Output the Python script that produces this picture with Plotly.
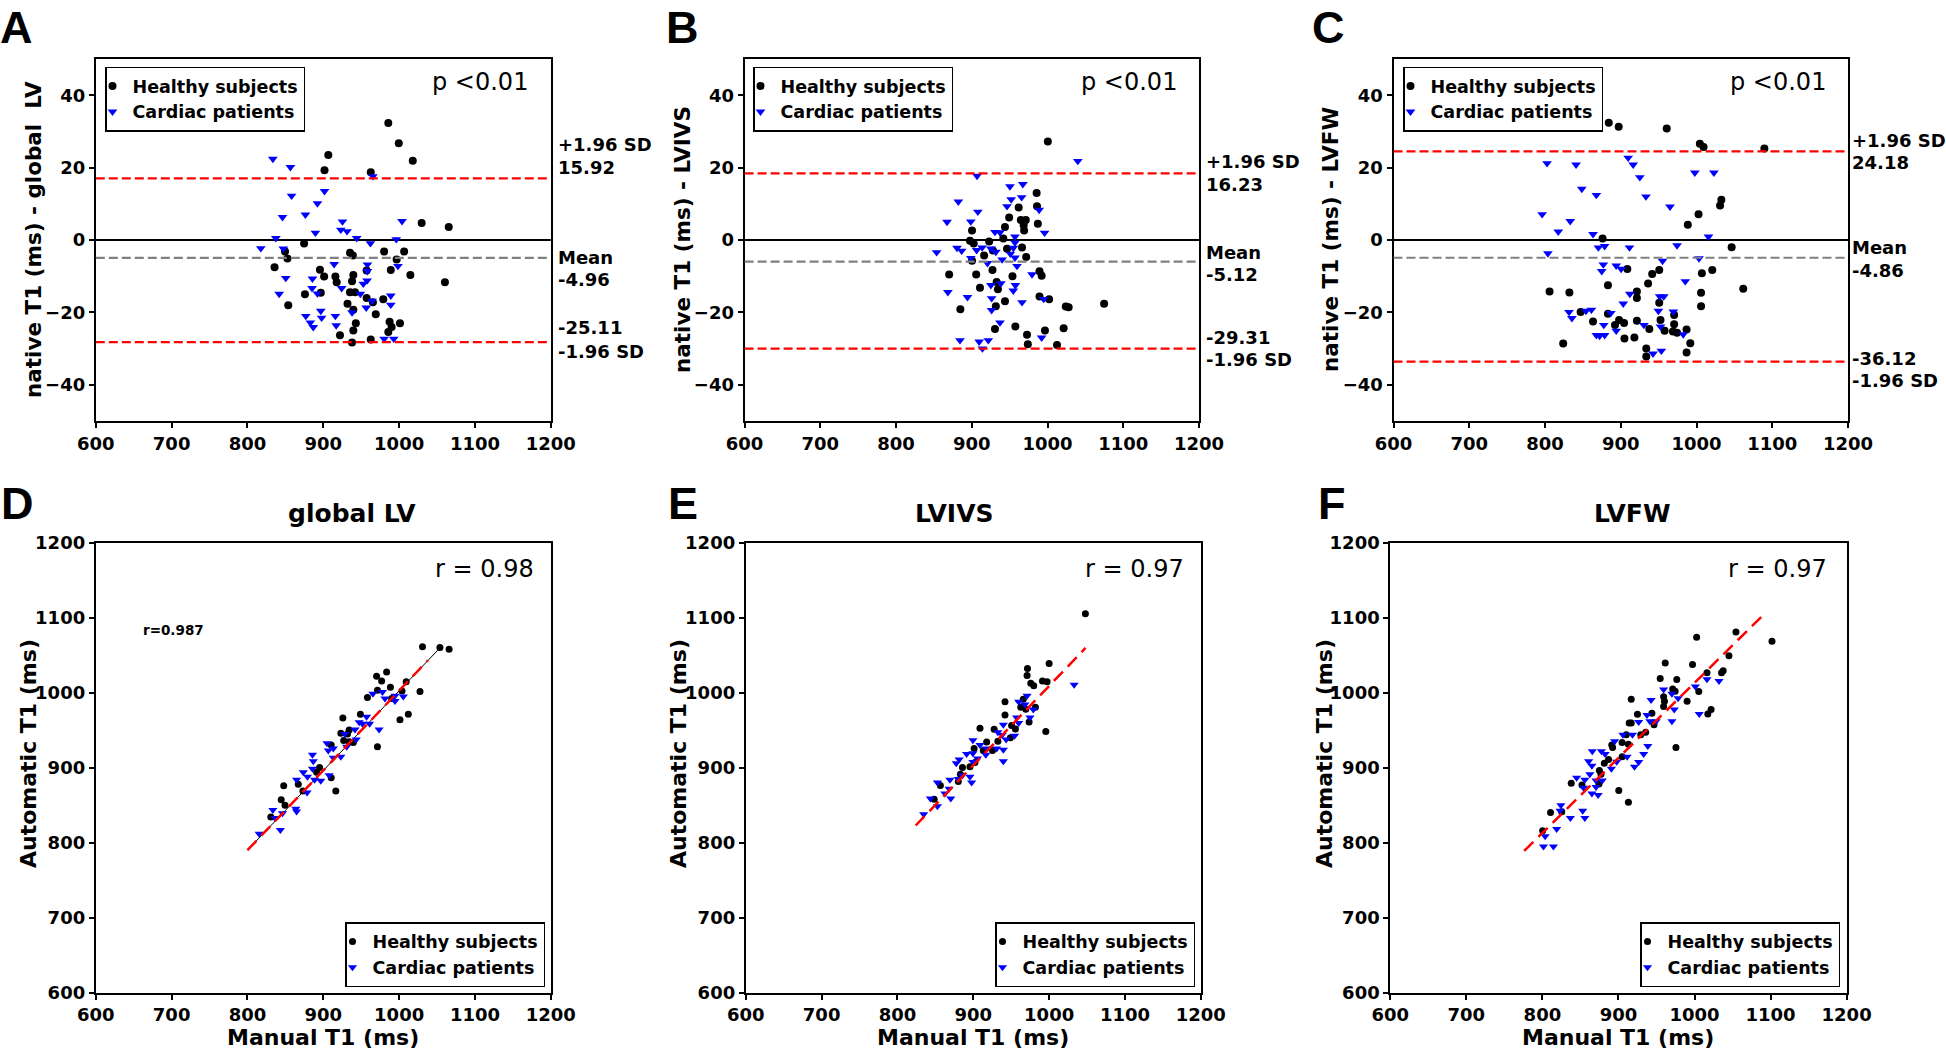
import plotly.graph_objects as go

W, H = 1946, 1053

# ---------------- DATA ----------------
# Panel A: Bland-Altman, global LV  (x = mean T1, y = difference)
A_healthy_x = [985.7, 999.5, 1018, 906.6, 901.6, 962.6, 1029.7, 1065.4, 874.7, 849.5, 852.7, 835.7, 853.8,
               895.6, 901.1, 875.8, 896.7, 915.9, 917.6, 935.2, 939, 939.6, 937.9, 935.2, 941.8, 931.9, 939.6,
               957.1, 965.4, 957.1, 980.2, 1006.6, 996.7, 989, 1014.8, 1060.4, 979.1, 969.2, 942.9, 939.6, 922,
               937.9, 962.6, 987.4, 990.1, 985.7, 1001.1]
A_healthy_y = [32.3, 26.7, 21.9, 23.5, 19.3, 18.7, 4.7, 3.6, -1.0, -3.2, -5.1, -7.5, -18.0,
               -8.2, -10.1, -15.0, -14.6, -10.1, -11.7, -3.5, -4.3, -9.7, -11.4, -14.4, -14.4, -17.6, -19.3,
               -16.0, -17.2, -8.4, -3.2, -3.2, -5.4, -8.3, -9.7, -11.7, -16.4, -20.5, -23.0, -25.0, -26.3,
               -28.3, -27.5, -22.6, -24.0, -25.4, -23.0]
A_patient_x = [833.5, 856.6, 858.2, 901.6, 892.3, 876.4, 846.2, 889.6, 837.4, 817.6, 847.3, 925.3, 923.1,
               931.3, 944, 962.1, 996.2, 1003.8, 965.4, 914.3, 850.5, 841.8, 885.7, 885.2, 892.3, 924.2, 948.9,
               958.2, 958.2, 957.7, 952.7, 998.4, 964.3, 956.6, 989, 989, 937.9, 896.7, 897.8, 876.9, 882.9,
               886.8, 915.9, 917, 980.2, 992.9]
A_patient_y = [22.4, 20.1, 12.2, 13.5, 10.1, 7.0, 6.3, 2.0, 0.5, -2.3, -2.4, 5.1, 2.8,
               2.4, 0.5, -0.9, 0.2, 5.2, 17.6, -6.7, -10.5, -14.9, -10.7, -13.3, -14.8, -13.3, -14.9,
               -6.8, -8.6, -11.2, -12.1, -7.2, -16.8, -18.7, -15.4, -17.9, -20.0, -19.6, -21.5, -21.0, -22.8,
               -24.1, -21.0, -23.6, -27.3, -27.3]
A_lines = [17.0, -4.96, -28.2]          # +1.96 SD, mean, -1.96 SD (as drawn)
A_labels = ["15.92", "-4.96", "-25.11"]
A_label_y = [26.3, 20.1, -4.7, -10.9, -24.3, -30.7]

# Panel B: Bland-Altman, LVIVS
B_healthy_x = [1000.4, 985.6, 986.1, 961.9, 949.3, 964.7, 971.3, 968.5, 969.1, 987.2, 943.8, 941.6, 900.3,
               897.6, 902.5, 922.9, 927.8, 946.5, 966.3, 971.8, 916.3, 900.3, 870.1, 905.8, 927.3, 953.7, 989.4,
               992.2, 932.8, 934.5, 910.8, 884.9, 931.7, 943.8, 989.4, 1002.1, 1024.1, 1027.9, 1074.7, 957.5,
               930.6, 972.9, 974, 996.6, 1021.3, 1012.5]
B_healthy_y = [27.2, 13.0, 9.3, 9.0, 6.2, 5.5, 5.5, 4.1, 2.6, 4.5, 3.6, 0.4, 2.6,
               -0.2, -1.0, -0.4, -2.9, -2.4, -2.1, -4.7, -4.3, -5.7, -9.5, -9.5, -8.3, -10.0, -8.6,
               -9.9, -11.6, -13.6, -13.2, -19.1, -18.3, -16.9, -15.6, -16.4, -18.4, -18.6, -17.6, -23.9,
               -24.6, -26.2, -28.8, -25.0, -24.4, -29.0]
B_patient_x = [1040, 906.9, 950.4, 967.4, 952, 965.8, 946.5, 882.2, 908, 867.3, 898.7, 988.9, 996.1, 930.6,
               937.2, 957, 957, 853.6, 880.5, 886.6, 906.4, 913.6, 925.2, 931.7, 954.8, 950.9, 898.7, 920.7,
               940, 957, 959.7, 979.5, 868.4, 894.3, 926.2, 925.2, 938.3, 957.5, 954.8, 966.3, 994.9, 926.2,
               937.2, 884.4, 909.7, 921.8, 914, 992.2]
B_patient_y = [21.8, 17.7, 14.8, 15.4, 11.2, 11.8, 9.3, 10.6, 7.8, 5.0, 5.1, 8.3, 2.0, 2.2,
               2.1, 0.9, -0.7, -3.4, -2.2, -3.0, -2.8, -2.1, -2.4, -3.3, -2.2, -3.8, -5.0, -6.4,
               -5.4, -4.9, -7.2, -9.5, -14.4, -15.8, -16.1, -12.5, -12.0, -12.5, -14.0, -17.2, -16.3, -19.4,
               -22.8, -27.7, -28.1, -27.7, -30.0, -27.0]
B_lines = [18.4, -6.0, -30.0]
B_labels = ["16.23", "-5.12", "-29.31"]
B_label_y = [21.6, 15.3, -3.4, -9.5, -26.8, -33.1]

# Panel C: Bland-Altman, LVFW
C_healthy_x = [884.2, 897.3, 960.7, 1004.4, 1009.3, 1089.6, 1032.8, 1031.1, 1002.7, 988.5, 876, 1046.4,
               908.7, 950.8, 941.5, 936.1, 1007.1, 1020.8, 883.1, 806, 832.2, 921.3, 921.3, 1006, 1006, 1061.7,
               950.8, 847, 863.4, 883.1, 897.8, 892.4, 904.4, 921.3, 937.7, 952.5, 970.5, 970.5, 957.9, 968.9,
               974.3, 986.9, 904.9, 918, 824, 991.8, 933.7, 933.7, 986.9]
C_healthy_y = [32.4, 31.3, 30.8, 26.6, 25.7, 25.3, 11.1, 9.5, 7.1, 4.2, 0.4, -2.0,
               -8.0, -8.3, -9.4, -12.0, -9.2, -8.3, -12.5, -14.2, -14.5, -14.2, -16.0, -14.6, -18.3, -13.5,
               -17.3, -19.9, -22.5, -20.4, -22.1, -23.5, -22.9, -22.3, -24.6, -22.1, -20.7, -23.3, -25.1, -25.3,
               -25.6, -24.7, -27.2, -26.9, -28.6, -28.5, -30.0, -32.2, -31.1]
C_patient_x = [909.8, 916.4, 802.7, 841, 925.2, 997.8, 1023, 848.6, 867.8, 933.3, 965, 796.2, 833.3, 817.5,
               863.4, 1015.8, 803.8, 870.5, 878.7, 911.5, 974.3, 1003.3, 955.2, 877, 874.9, 894, 900.5, 985.2,
               912, 951.4, 956.8, 903.3, 831.7, 835.5, 854.1, 861.2, 886.9, 949.7, 969.4, 930.6, 952.5, 877.6,
               878.7, 867.8, 872.1, 894, 982.5, 953.6, 942.6]
C_patient_y = [22.7, 20.8, 21.2, 20.8, 17.3, 18.6, 18.6, 14.1, 12.4, 12.0, 9.2, 7.1, 5.2, 2.3,
               1.6, 0.9, -3.7, -2.1, -1.7, -2.1, -1.5, -5.1, -5.8, -6.8, -8.6, -7.1, -8.0, -11.4,
               -14.9, -15.6, -15.6, -17.6, -19.9, -21.6, -19.6, -19.3, -20.2, -19.6, -19.8, -23.5, -23.9, -23.5,
               -26.3, -26.3, -26.5, -25.1, -26.1, -30.6, -31.4]
C_lines = [24.5, -4.9, -33.6]
C_labels = ["24.18", "-4.86", "-36.12"]
C_label_y = [27.6, 21.3, -2.2, -8.3, -32.7, -38.9]

# Panel D: correlation, global LV (x = manual, y = automatic)
D_healthy_x = [1030.8, 1053.8, 1065.9, 983.5, 970.3, 976.9, 1009.3, 988.5, 971.4, 1003.8, 1027.5, 958.2,
               990.1, 948.9, 1012.1, 1001.1, 925.8, 923.1, 934.1, 926.9, 934.1, 910.4, 971.4, 895.1, 891.2,
               910.4, 916.5, 847.8, 867, 873.1, 844.5, 849.5, 830.8, 939.6, 931.9]
D_healthy_y = [1061.6, 1060.6, 1058.2, 1028, 1022.1, 1015.8, 1014.8, 1007.5, 1003.6, 1002.6, 1001.7, 993.9,
               992.4, 971.4, 971.4, 964.1, 966.6, 946.1, 950.5, 936.4, 934.9, 930.5, 928.1, 900.3, 894,
               886.6, 869.1, 875.9, 877.9, 869.1, 857.4, 850.1, 834.5, 933.9, 945.1]
D_patient_x = [965.4, 978, 981.3, 994.5, 1005.5, 994.5, 957.1, 947.3, 951.6, 961, 973.6, 941.8, 928.6, 943.3,
               904.9, 913.2, 906.6, 930.8, 885.7, 886.8, 923.1, 913.2, 885.7, 873.6, 879.1, 864.8, 888.5,
               896.7, 907.7, 878.6, 833.5, 836.3, 846.2, 863.7, 864.8, 815.4, 843.4]
D_patient_y = [998.7, 1001.2, 992.4, 996.3, 995.3, 989, 968, 960.7, 958.8, 958.8, 951, 951, 945.1, 937.8,
               932.9, 925.6, 923.2, 928.1, 917.4, 908.6, 914.9, 913.5, 898.8, 894, 888.1, 884.2, 884.2,
               882.7, 890.1, 867.2, 843.8, 833.0, 839.4, 845.2, 841.8, 812.1, 816.9]
D_fit_x = [800, 1038]
D_fit_y = [790, 1043.5]
D_ident_x = [800, 1051]
D_ident_y = [790, 1057]

# Panel E: correlation, LVIVS
E_healthy_x = [1047.8, 971.4, 970.9, 1000, 975.8, 979.7, 991.2, 997.3, 941.8, 965.9, 962.6, 969.2, 941.8,
               973.6, 995.6, 950.5, 955.5, 948.9, 908.8, 927.5, 917.6, 901.1, 913.2, 925.3, 932.4, 902.2,
               885.7, 895.6, 883, 880.2, 856.6, 848.4, 981.9]
E_healthy_y = [1105.5, 1032.4, 1023.1, 1039.2, 1012.9, 1009.5, 1015.8, 1014.8, 988, 991.4, 980.7, 978.3, 970.5,
               961.2, 948.5, 956.3, 951.9, 940.2, 952.9, 951.5, 934.4, 925.6, 923.2, 923.2, 935.4, 907.1,
               900.3, 901.3, 891.5, 881.8, 876.4, 857.9, 980.7]
E_patient_x = [1033, 959.9, 968.1, 979.1, 974.7, 957.1, 939.6, 932.4, 937.9, 954.4, 943.3, 899.5, 908.8, 917.6,
               930.8, 939.6, 899.5, 891.2, 916.5, 905.5, 881.3, 877.5, 939.6, 899.5, 895.6, 897.8, 880.2,
               869.2, 868.1, 852.7, 862.6, 870.3, 843.4, 852.7, 834.6, 885.7, 959.9, 970.9]
E_patient_y = [1010.9, 988, 984.6, 977.8, 967, 967, 957.3, 947.6, 943.7, 942.7, 937.8, 936.8, 930.5, 925.6,
               925.6, 924.2, 919.3, 918.3, 917.4, 912.5, 911, 906.1, 908.6, 907.6, 888.1, 880.3, 885.2,
               884.2, 872, 880.3, 865.7, 858.9, 858.9, 848.6, 837.9, 890.1, 959.7, 996.3]
E_fit_x = [824, 1048]
E_fit_y = [823, 1060]

# Panel F: correlation, LVFW
F_healthy_x = [1101.9, 1054.5, 1002.8, 1045.3, 961.5, 997.4, 1037.7, 1016.4, 954.9, 976.7, 971.3, 974.5,
               1005.6, 959.4, 960.5, 959.4, 990.3, 916.8, 925, 944, 946.8, 914.1, 916.8, 929.3, 935.8, 910.3,
               904.8, 891.2, 892.3, 913.1, 904.8, 887, 881.4, 874.9, 877, 874.3, 900.4, 913.1, 975.6, 1017.5,
               1021.8, 837.9, 852, 810.7, 825.4, 800.3, 1035.5]
F_healthy_y = [1068.9, 1081.1, 1074.3, 1049.4, 1039.7, 1037.7, 1029.4, 1027, 1019.2, 1017.7, 1005, 1002.1,
               1001.7, 994.8, 988.9, 981.7, 988.9, 991.4, 971.4, 972.9, 957.3, 959.7, 959.7, 944.1, 947.6, 944.1,
               933.9, 930.5, 927.1, 931.5, 914.9, 911, 906.1, 896.4, 891.5, 878.4, 869.6, 854, 927.1, 971.9,
               977.8, 879.3, 876.9, 840.4, 841.3, 816.0, 1027]
F_patient_x = [1032.2, 1016.4, 1001.1, 959.4, 970.3, 978.4, 942.9, 1006.2, 973.4, 970.3, 926.6, 937.5, 949.5,
               941.3, 918.4, 905.9, 938.6, 933.2, 926.6, 921.1, 911.4, 895, 897.7, 890.7, 865.6, 877.6, 882.5,
               860.8, 865.1, 862.4, 845, 855.8, 870.5, 878.7, 854.1, 870.5, 865.1, 873.3, 824.3, 823.2, 836.8,
               853, 855.8, 818.8, 803.6, 801.4, 814.5]
F_patient_y = [1015.8, 1018.2, 1008.5, 1004.6, 998.7, 992.9, 990.4, 971.9, 977.8, 962.2, 961.2, 970.5, 962.2,
               962.2, 944.1, 944.1, 929, 918.3, 907.6, 901.3, 914.9, 935.4, 908.1, 898.8, 922.2, 922.2, 918.3,
               908.6, 902.8, 891.5, 886.6, 884.2, 883.2, 883.2, 873.5, 874.5, 865.7, 863.7, 850.1, 842.8, 833,
               842.8, 833, 818.4, 808.7, 795, 795]
F_fit_x = [776, 1091]
F_fit_y = [789, 1104.5]

legend_names = ["Healthy subjects", "Cardiac patients"]
ba_titles = ["native T1 (ms) - global\u00a0 LV", "native T1 (ms) - LVIVS", "native T1 (ms) - LVFW"]
corr_titles = ["global LV", "LVIVS", "LVFW"]
r_texts = ["r = 0.98", "r = 0.97", "r = 0.97"]
panel_letters = ["A", "B", "C", "D", "E", "F"]
ba_x_range = [600, 1200]
ba_y_range = [-50, 50]
corr_range = [600, 1200]
ba_y_ticks = [-40, -20, 0, 20, 40]
tick_vals = [600, 700, 800, 900, 1000, 1100, 1200]

# ---------------- LAYOUT GEOMETRY (pixels) ----------------
def px_x(v):
    return v / W

def px_y(v):
    return 1 - v / H

x_boxes = {1: (95.8, 550.8), 2: (744.6, 1199.0), 3: (1393.5, 1848.0),
           4: (95.8, 550.8), 5: (745.8, 1200.8), 6: (1390.3, 1846.6)}
top_y = (59.0, 421.0)
bot_y = (543.0, 992.6)

BOLD = dict(family="DejaVu Sans", weight="bold", color="black")
fig = go.Figure()

ba_data = [
    (A_healthy_x, A_healthy_y, A_patient_x, A_patient_y, A_lines, A_labels, A_label_y),
    (B_healthy_x, B_healthy_y, B_patient_x, B_patient_y, B_lines, B_labels, B_label_y),
    (C_healthy_x, C_healthy_y, C_patient_x, C_patient_y, C_lines, C_labels, C_label_y),
]
corr_data = [
    (D_healthy_x, D_healthy_y, D_patient_x, D_patient_y, D_fit_x, D_fit_y),
    (E_healthy_x, E_healthy_y, E_patient_x, E_patient_y, E_fit_x, E_fit_y),
    (F_healthy_x, F_healthy_y, F_patient_x, F_patient_y, F_fit_x, F_fit_y),
]

annotations = []
shapes = []

legend_pos_top = [105.0, 753.0, 1403.0]
legend_pos_bot = [545.0, 1195.0, 1840.0]
label_offset = [1.012, 1.012, 1.005]

for i in range(6):
    n = i + 1
    xa = "x" if n == 1 else f"x{n}"
    ya = "y" if n == 1 else f"y{n}"
    lg = "legend" if n == 1 else f"legend{n}"
    if i < 3:
        hx, hy, cx, cy, lines, labels, label_y = ba_data[i]
        msize_h, msize_c = 8, 8.5
    else:
        hx, hy, cx, cy, fx, fy = corr_data[i - 3]
        msize_h, msize_c = 7, 8
        if i == 3:
            fig.add_trace(go.Scatter(x=D_ident_x, y=D_ident_y, mode="lines", xaxis=xa, yaxis=ya,
                                     line=dict(color="black", width=1), showlegend=False, hoverinfo="skip"))
    fig.add_trace(go.Scatter(x=hx, y=hy, mode="markers", name=legend_names[0], xaxis=xa, yaxis=ya, legend=lg,
                             marker=dict(symbol="circle", color="black", size=msize_h)))
    fig.add_trace(go.Scatter(x=cx, y=cy, mode="markers", name=legend_names[1], xaxis=xa, yaxis=ya, legend=lg,
                             marker=dict(symbol="triangle-down", color="#0000ff", size=msize_c)))
    if i >= 3:
        fig.add_trace(go.Scatter(x=fx, y=fy, mode="lines", xaxis=xa, yaxis=ya, showlegend=False,
                                 line=dict(color="red", width=2.5, dash="13px,7px"), hoverinfo="skip"))

    xd = [px_x(x_boxes[n][0]), px_x(x_boxes[n][1])]
    if i < 3:
        yd = [px_y(top_y[1]), px_y(top_y[0])]
    else:
        yd = [px_y(bot_y[1]), px_y(bot_y[0])]
    axis_common = dict(showline=True, linecolor="black", linewidth=2, mirror=True, ticks="outside",
                       ticklen=5, tickwidth=1.5, tickcolor="black", showgrid=False, zeroline=False,
                       automargin=False, tickfont=dict(size=18, **BOLD))
    fig.layout[f"xaxis{'' if n == 1 else n}"] = dict(domain=xd, anchor=ya,
        range=ba_x_range if i < 3 else corr_range, tickvals=tick_vals, **axis_common)
    if i < 3:
        fig.layout[f"yaxis{'' if n == 1 else n}"] = dict(domain=yd, anchor=xa, range=ba_y_range,
                                                        tickvals=ba_y_ticks, **axis_common)
    else:
        fig.layout[f"yaxis{'' if n == 1 else n}"] = dict(domain=yd, anchor=xa, range=corr_range,
                                                        tickvals=tick_vals, **axis_common)

    legend_common = dict(bgcolor="white", bordercolor="black", borderwidth=1.5,
                         font=dict(size=17.5, **BOLD), tracegroupgap=0, itemwidth=30, indentation=-14)
    if i < 3:
        fig.layout[lg] = dict(x=px_x(legend_pos_top[i]), y=px_y(66.5), xanchor="left", yanchor="top",
                              **legend_common)
    else:
        fig.layout[lg] = dict(x=px_x(legend_pos_bot[i - 3]), y=px_y(987), xanchor="right", yanchor="bottom",
                              **legend_common)

    xdom = f"{xa} domain"
    if i < 3:
        shapes.append(dict(type="line", xref=xdom, yref=ya, x0=0, x1=1, y0=0, y1=0,
                           line=dict(color="black", width=1.8), layer="below"))
        shapes.append(dict(type="line", xref=xdom, yref=ya, x0=0, x1=1, y0=lines[0], y1=lines[0],
                           line=dict(color="red", width=2.2, dash="9px,4px")))
        shapes.append(dict(type="line", xref=xdom, yref=ya, x0=0, x1=1, y0=lines[1], y1=lines[1],
                           line=dict(color="#808080", width=2.2, dash="9px,4px")))
        shapes.append(dict(type="line", xref=xdom, yref=ya, x0=0, x1=1, y0=lines[2], y1=lines[2],
                           line=dict(color="red", width=2.2, dash="9px,4px")))
        texts = ["+1.96 SD", labels[0], "Mean", labels[1], labels[2], "-1.96 SD"]
        for t, yy in zip(texts, label_y):
            annotations.append(dict(text=t, xref=xdom, yref=ya, x=label_offset[i], y=yy, xanchor="left",
                                    yanchor="middle", showarrow=False, font=dict(size=18, **BOLD)))
        annotations.append(dict(text="p <0.01", xref=xdom, yref=ya, x=0.955, y=43.6, xanchor="right",
                                yanchor="middle", showarrow=False,
                                font=dict(size=24, family="DejaVu Sans", color="black")))
    else:
        k = i - 3
        annotations.append(dict(text=r_texts[k], xref=xdom, yref=ya, x=0.968 if k < 2 else 0.962, y=1165,
                                xanchor="right", yanchor="middle", showarrow=False,
                                font=dict(size=24, family="DejaVu Sans", color="black")))

annotations.append(dict(text="r=0.987", xref="x4", yref="y4", x=703, y=1084, xanchor="center",
                        yanchor="middle", showarrow=False, font=dict(size=13.5, **BOLD)))

for xp, t in zip([33, 682, 1330], ba_titles):
    annotations.append(dict(text=t, xref="paper", yref="paper", x=px_x(xp), y=px_y(240), textangle=-90,
                            xanchor="center", yanchor="middle", showarrow=False, font=dict(size=21.5, **BOLD)))
for xp, xt, t, ct in zip([28, 678, 1324], [323, 973, 1618], ["Automatic T1 (ms)"] * 3, corr_titles):
    annotations.append(dict(text=t, xref="paper", yref="paper", x=px_x(xp), y=px_y(754), textangle=-90,
                            xanchor="center", yanchor="middle", showarrow=False, font=dict(size=22, **BOLD)))
    annotations.append(dict(text="Manual T1 (ms)", xref="paper", yref="paper", x=px_x(xt), y=px_y(1037),
                            xanchor="center", yanchor="middle", showarrow=False, font=dict(size=22, **BOLD)))
for xp, t in zip([351.7, 954, 1632], corr_titles):
    annotations.append(dict(text=t, xref="paper", yref="paper", x=px_x(xp), y=px_y(513.6),
                            xanchor="center", yanchor="middle", showarrow=False, font=dict(size=25, **BOLD)))

# panel letters: top row anchored to the page top so the text box stays inside the figure
letter_pos = [(-2, 0, "top"), (664, 0, "top"), (1310, 0, "top"),
              (-1, 503, "middle"), (666, 503, "middle"), (1316, 503, "middle")]
for (xp, yp, anc), L in zip(letter_pos, panel_letters):
    annotations.append(dict(text=L, xref="paper", yref="paper", x=px_x(xp), y=px_y(yp), xanchor="left",
                            yanchor=anc, showarrow=False,
                            font=dict(size=45, family="Liberation Sans", weight="bold", color="black")))

fig.update_layout(template="none", width=W, height=H, margin=dict(l=0, r=0, t=0, b=0, autoexpand=False),
                  plot_bgcolor="white", paper_bgcolor="white", annotations=annotations, shapes=shapes,
                  font=dict(family="DejaVu Sans", color="black"), hovermode=False)

fig.write_html("out.html", config={"displayModeBar": False},
               post_script="document.body.style.margin='0px';document.body.style.overflow='hidden';")
